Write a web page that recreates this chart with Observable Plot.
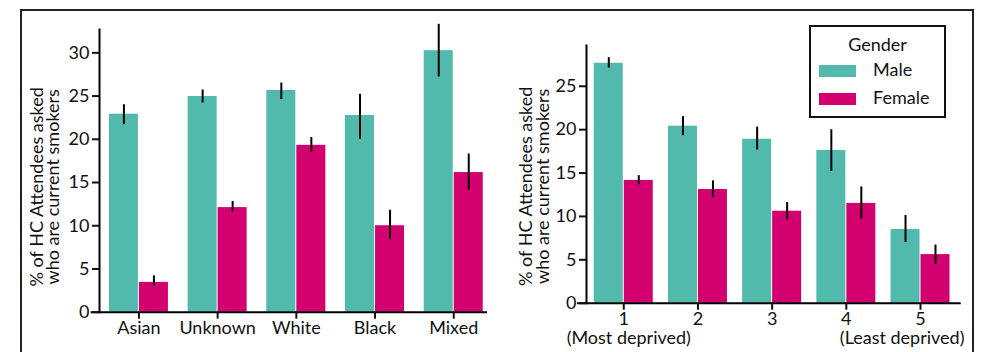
<!DOCTYPE html>
<html>
<head>
<meta charset="utf-8">
<script src="https://cdn.jsdelivr.net/npm/d3@7"></script>
<script src="https://cdn.jsdelivr.net/npm/@observablehq/plot@0.6"></script>
<style>
  html, body { margin: 0; padding: 0; background: #fff; }
  #wrap { position: relative; width: 982px; height: 352px; overflow: hidden; font-family: Lato, "Noto Sans", sans-serif; color: #111; }
  #outer { position: absolute; left: 20px; top: 9px; width: 954px; height: 400px; border: 2px solid #222; box-sizing: border-box; }
  .panel { position: absolute; top: 0; }
  #legend { position: absolute; left: 809px; top: 25px; width: 137px; height: 93px; border: 2px solid #111; box-sizing: border-box; background: #fff; font-size: 18px; }
  #legend .title { position: absolute; left: 0; width: 100%; top: 6px; text-align: center; }
  #legend .sw { position: absolute; left: 8px; width: 37px; height: 12px; }
  #legend .lb { position: absolute; left: 62px; }
</style>
</head>
<body>
<div id="wrap">
  <div id="outer"></div>
  <div id="left" class="panel" style="left:0px"></div>
  <div id="right" class="panel" style="left:490px"></div>
  <div id="legend"></div>
</div>
<script>
// ---- data ----
const ethnicity = ["Asian", "Unknown", "White", "Black", "Mixed"];
const ethMale = [22.9, 24.95, 25.65, 22.75, 30.25];
const ethMaleLo = [21.7, 24.2, 24.6, 20.0, 27.2];
const ethMaleHi = [24.0, 25.7, 26.5, 25.2, 33.3];
const ethFemale = [3.45, 12.1, 19.3, 10.0, 16.15];
const ethFemaleLo = [3.0, 11.6, 18.5, 8.4, 14.1];
const ethFemaleHi = [4.2, 12.8, 20.2, 11.8, 18.3];

const imd = ["1", "2", "3", "4", "5"];
const imdMale = [27.65, 20.4, 18.9, 17.6, 8.5];
const imdMaleLo = [27.1, 19.3, 17.65, 15.2, 7.0];
const imdMaleHi = [28.3, 21.5, 20.3, 20.0, 10.1];
const imdFemale = [14.15, 13.1, 10.6, 11.5, 5.6];
const imdFemaleLo = [13.65, 12.2, 9.6, 9.7, 4.5];
const imdFemaleHi = [14.7, 14.1, 11.6, 13.4, 6.7];

const leftYTicks = [0, 5, 10, 15, 20, 25, 30];
const rightYTicks = [0, 5, 10, 15, 20, 25];
const genders = ["Male", "Female"];
const genderColors = ["#52BAAC", "#D3006F"];
const yLabel = "% of HC Attendees asked\nwho are current smokers";
const imdNotes = [{cat: "1", text: "(Most deprived)"}, {cat: "5", text: "(Least deprived)"}];

const FS = 18;

function rows(cats, vals, lo, hi, gender) {
  return cats.map((c, i) => ({cat: c, gender, value: vals[i], lo: lo[i], hi: hi[i]}));
}

function panel(o) {
  const bw = d3.scaleBand().domain(o.cats)
    .range([o.marginLeft, o.width - o.marginRight])
    .paddingInner(o.paddingInner).paddingOuter(o.paddingOuter).align(o.align).bandwidth();
  const male = rows(o.cats, o.male, o.maleLo, o.maleHi, "Male");
  const female = rows(o.cats, o.female, o.femaleLo, o.femaleHi, "Female");
  const half = bw / 2;
  const marks = [
    Plot.barY(male, {x: "cat", y: "value", fill: genderColors[0], insetRight: half + 0.5}),
    Plot.barY(female, {x: "cat", y: "value", fill: genderColors[1], insetLeft: half + 0.5}),
    Plot.ruleX(male, {x: "cat", y1: "lo", y2: "hi", stroke: "#000", strokeWidth: 2, dx: -(half / 2 + 0.25)}),
    Plot.ruleX(female, {x: "cat", y1: "lo", y2: "hi", stroke: "#000", strokeWidth: 2, dx: (half / 2 + 0.25)}),
    Plot.frame({anchor: "left", stroke: "#000", strokeWidth: 2}),
    Plot.ruleY([0], {stroke: "#000", strokeWidth: 2, insetLeft: -o.axisExtend}),
    Plot.axisY({ticks: o.yTicks, tickSize: 7, tickPadding: 3, label: null, strokeWidth: 2, fontSize: FS}),
    Plot.axisX({tickSize: 7, tickPadding: 2, label: null, strokeWidth: 2, fontSize: FS}),
    Plot.text([yLabel], {frameAnchor: "left", rotate: -90, dx: o.labelDx, dy: o.labelDy, fontSize: FS, lineHeight: 0.92, textAnchor: "middle", lineAnchor: "middle"})
  ];
  if (o.notes) {
    marks.push(Plot.text(o.notes.slice(0, 1), {x: "cat", y: 0, text: "text", dy: 35, dx: 5, fontSize: FS, textAnchor: "middle"}));
    marks.push(Plot.text(o.notes.slice(1), {x: "cat", y: 0, text: "text", dy: 35, dx: 44, fontSize: FS, textAnchor: "end"}));
  }
  return Plot.plot({
    width: o.width, height: o.height,
    marginLeft: o.marginLeft, marginRight: o.marginRight, marginTop: o.marginTop, marginBottom: o.marginBottom,
    style: {fontFamily: "Lato, 'Noto Sans', sans-serif", fontSize: FS + "px", color: "#111", background: "transparent", overflow: "visible"},
    x: {type: "band", domain: o.cats, paddingInner: o.paddingInner, paddingOuter: o.paddingOuter, align: o.align, round: false, axis: null},
    y: {domain: [0, o.yMax], axis: null},
    marks
  });
}

document.getElementById("left").appendChild(panel({
  cats: ethnicity, male: ethMale, maleLo: ethMaleLo, maleHi: ethMaleHi,
  female: ethFemale, femaleLo: ethFemaleLo, femaleHi: ethFemaleHi,
  width: 490, height: 352, marginLeft: 99, marginRight: 3, marginTop: 29, marginBottom: 40.3,
  yMax: 32.7, yTicks: leftYTicks, paddingInner: 0.25, paddingOuter: 0.09, align: 0.7,
  axisExtend: 8.3, labelDx: -54, labelDy: 16
}));

document.getElementById("right").appendChild(panel({
  cats: imd, male: imdMale, maleLo: imdMaleLo, maleHi: imdMaleHi,
  female: imdFemale, femaleLo: imdFemaleLo, femaleHi: imdFemaleHi,
  width: 492, height: 352, marginLeft: 96, marginRight: 21.3, marginTop: 45, marginBottom: 49.3,
  yMax: 29.7, yTicks: rightYTicks, paddingInner: 0.205, paddingOuter: 0.128, align: 0.41,
  axisExtend: 9, labelDx: -51.2, labelDy: 12, notes: imdNotes
}));

// legend
const lg = document.getElementById("legend");
lg.innerHTML = '<div class="title">Gender</div>' + genders.map((g, i) =>
  `<div class="sw" style="top:${38 + i * 28}px;background:${genderColors[i]}"></div>` +
  `<div class="lb" style="top:${31 + i * 28}px">${g}</div>`).join("");
</script>
</body>
</html>
